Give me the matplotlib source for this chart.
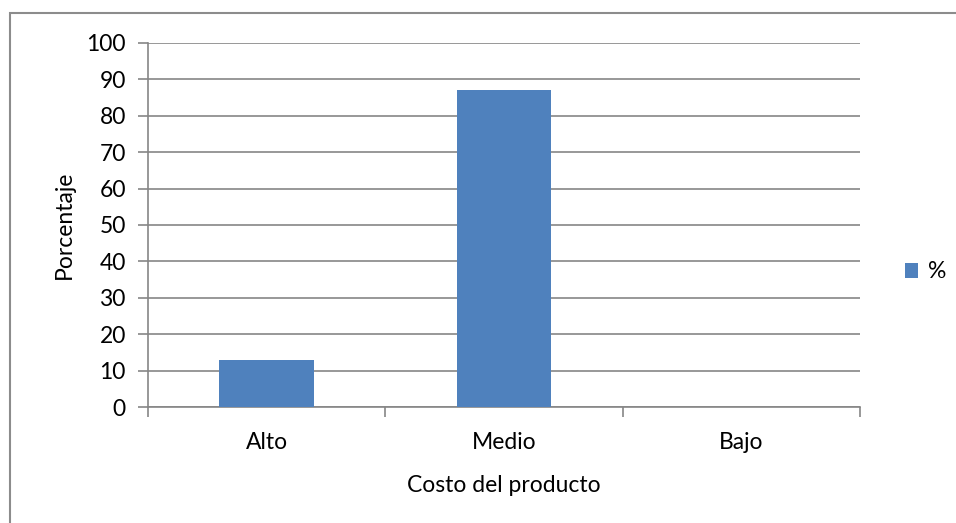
import matplotlib.pyplot as plt
from matplotlib.patches import Rectangle

categories = ['Alto', 'Medio', 'Bajo']
values = [13, 87, 0]
series_name = '%'
yticks = list(range(0, 101, 10))

plt.rcParams['font.family'] = ['Lato', 'DejaVu Sans']
fs = 16.5

fig = plt.figure(figsize=(9.56, 5.23), dpi=100)
ax = fig.add_axes([148 / 956, 1 - 407 / 523, 712 / 956, 364 / 523])

grid_c = '#868686'
x = list(range(len(categories)))
ax.bar(x, values, width=0.4, color='#4F81BD', label=series_name, zorder=3)

ax.set_xlim(-0.5, len(categories) - 0.5)
ax.set_ylim(0, 100)
ax.set_yticks(yticks)
ax.yaxis.grid(True, color=grid_c, linewidth=1.2, zorder=0)
ax.tick_params(axis='y', length=7, width=1.2, color=grid_c, labelsize=fs, pad=9)

# category labels centred, tick marks on the boundaries
ax.set_xticks(x)
ax.set_xticklabels(categories, fontsize=fs)
ax.tick_params(axis='x', which='major', length=0, pad=18)
ax.set_xticks([i - 0.5 for i in range(len(categories) + 1)], minor=True)
ax.tick_params(axis='x', which='minor', length=7, width=1.2, color=grid_c)

for s in ['top', 'right']:
    ax.spines[s].set_visible(False)
for s in ['left', 'bottom']:
    ax.spines[s].set_color(grid_c)
    ax.spines[s].set_linewidth(1.2)

ax.set_xlabel('Costo del producto', fontsize=fs, labelpad=16)
ax.set_ylabel('Porcentaje', fontsize=fs, labelpad=8)

fig.legend(loc='center left', bbox_to_anchor=(884 / 956, 1 - 272 / 523),
           frameon=False, fontsize=fs, handlelength=0.6, handleheight=0.6,
           handletextpad=0.4)

# outer chart border (only left and top edges fall inside the image)
fig.patches.append(Rectangle((10 / 956, -0.1), 1.2, 1.1 - 13 / 523,
                             transform=fig.transFigure, fill=False,
                             edgecolor='#8c8c8c', linewidth=1.5))

fig.savefig('out.png', dpi=100)
